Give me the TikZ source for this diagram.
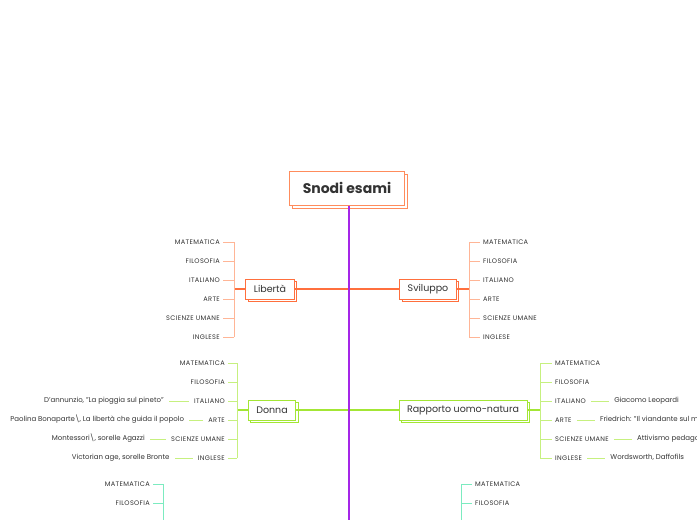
\documentclass[tikz,border=0pt]{standalone}
\usepackage{fontspec}
\setmainfont{Poppins}
\newfontfamily\capsfont[LetterSpace=5]{Poppins}
\usetikzlibrary{positioning,shadows}

\definecolor{ink}{HTML}{333333}
\definecolor{orangeline}{HTML}{FF6F3D}
\definecolor{orangebox}{HTML}{FF8C5C}
\definecolor{orangelight}{HTML}{FFB596}
\definecolor{limeline}{HTML}{A3E635}
\definecolor{limelight}{HTML}{C6F07F}
\definecolor{tealline}{HTML}{7CEBC0}
\definecolor{spine}{HTML}{A526E8}

\begin{document}
\begin{tikzpicture}[
  x=1pt, y=-1pt,
  root/.style={rectangle, draw=orangebox, line width=1pt, fill=white, minimum width=115pt, minimum height=34pt, font=\fontsize{14}{16}\selectfont\bfseries, text=ink, copy shadow={shadow xshift=3pt, shadow yshift=-3pt}},
  topic/.style={rectangle, draw, line width=0.9pt, fill=white, minimum height=20pt, inner xsep=8pt, font=\fontsize{9.5}{11}\selectfont, text=ink, copy shadow={shadow xshift=2.5pt, shadow yshift=-2.5pt}},
  subj/.style={inner sep=0pt, text height=5pt, text depth=0pt, font=\capsfont\fontsize{6.6}{8}\selectfont, text=ink},
  leaf/.style={inner sep=0pt, text height=5pt, text depth=1.6pt, font=\fontsize{7}{8}\selectfont, text=ink},
  tick/.style={line width=0.8pt},
  branch/.style={line width=1.1pt}]

\clip (0,0) rectangle (697,520);

\node[root] (root) at (347,188) {Snodi esami};

\node[topic, draw=orangeline] (liberta) at (270,289) {Libertà};
\node[topic, draw=orangeline] (sviluppo) at (428,289) {Sviluppo};
\node[topic, draw=limeline] (donna) at (272,410) {Donna};
\node[topic, draw=limeline] (rapporto) at (463,410) {Rapporto uomo-natura};
\node[topic, draw=tealline, minimum width=123pt] (basesx) at (234.5,530) {};
\node[topic, draw=tealline, minimum width=50pt] (basedx) at (423,530) {};

\coordinate (libbr) at (234,289);
\coordinate (svibr) at (469,289);
\coordinate (donbr) at (237,410);
\coordinate (rapbr) at (540,410);
\coordinate (sxbr) at (163,530);
\coordinate (dxbr) at (461,530);
\coordinate (spineend) at (349,530);

% Libertà
\node[subj, anchor=east] (lib1) at (220,242) {MATEMATICA};
\node[subj, anchor=east] (lib2) at (220,261) {FILOSOFIA};
\node[subj, anchor=east] (lib3) at (220,280) {ITALIANO};
\node[subj, anchor=east] (lib4) at (220,299) {ARTE};
\node[subj, anchor=east] (lib5) at (220,318) {SCIENZE UMANE};
\node[subj, anchor=east] (lib6) at (220,337) {INGLESE};

% Sviluppo
\node[subj, anchor=west] (svi1) at (483,242) {MATEMATICA};
\node[subj, anchor=west] (svi2) at (483,261) {FILOSOFIA};
\node[subj, anchor=west] (svi3) at (483,280) {ITALIANO};
\node[subj, anchor=west] (svi4) at (483,299) {ARTE};
\node[subj, anchor=west] (svi5) at (483,318) {SCIENZE UMANE};
\node[subj, anchor=west] (svi6) at (483,337) {INGLESE};

% Donna
\node[subj, anchor=east] (don1) at (225,363) {MATEMATICA};
\node[subj, anchor=east] (don2) at (225,382) {FILOSOFIA};
\node[subj, anchor=east] (don3) at (225,401) {ITALIANO};
\node[subj, anchor=east] (don4) at (225,420) {ARTE};
\node[subj, anchor=east] (don5) at (225,439) {SCIENZE UMANE};
\node[subj, anchor=east] (don6) at (225,458) {INGLESE};
\node[leaf, left=30pt of don3] (donlf3) {D'annunzio, "La pioggia sul pineto"};
\node[leaf, left=24pt of don4] (donlf4) {Paolina Bonaparte\textbackslash, La libertà che guida il popolo};
\node[leaf, left=26pt of don5] (donlf5) {Montessori\textbackslash, sorelle Agazzi};
\node[leaf, left=28pt of don6] (donlf6) {Victorian age, sorelle Bronte};

% Rapporto uomo-natura
\node[subj, anchor=west] (rap1) at (555,363) {MATEMATICA};
\node[subj, anchor=west] (rap2) at (555,382) {FILOSOFIA};
\node[subj, anchor=west] (rap3) at (555,401) {ITALIANO};
\node[subj, anchor=west] (rap4) at (555,420) {ARTE};
\node[subj, anchor=west] (rap5) at (555,439) {SCIENZE UMANE};
\node[subj, anchor=west] (rap6) at (555,458) {INGLESE};
\node[leaf, right=28pt of rap3] (raplf3) {Giacomo Leopardi};
\node[leaf, right=28pt of rap4] (raplf4) {Friedrich: "Il viandante sul mare di nebbia"};
\node[leaf, right=28pt of rap5] (raplf5) {Attivismo pedagogico};
\node[leaf, right=28pt of rap6] (raplf6) {Wordsworth, Daffofils};

% in fondo
\node[subj, anchor=east] (sx1) at (150,484) {MATEMATICA};
\node[subj, anchor=east] (sx2) at (150,503) {FILOSOFIA};
\node[subj, anchor=west] (dx1) at (475,484) {MATEMATICA};
\node[subj, anchor=west] (dx2) at (475,503) {FILOSOFIA};

% Lines
\draw[orangeline, branch] (liberta.east) -- (liberta -| spineend);
\draw[orangeline, branch] (sviluppo.west) -- (sviluppo -| spineend);
\draw[limeline, branch] (donna.east) -- (rapporto.west);
\draw[tealline, branch] (basesx.east) -- (basedx.west);

\draw[orangeline, branch] (liberta.west) -- (libbr);
\draw[orangeline, branch] (sviluppo.east) -- (svibr);
\draw[limeline, branch] (donna.west) -- (donbr);
\draw[limeline, branch] (rapporto.east) -- (rapbr);
\draw[tealline, branch] (basesx.west) -- (sxbr);
\draw[tealline, branch] (basedx.east) -- (dxbr);

\draw[orangelight, tick] (libbr |- lib1) -- (libbr |- lib6);
\draw[orangelight, tick] (svibr |- svi1) -- (svibr |- svi6);
\draw[limelight, tick] (donbr |- don1) -- (donbr |- don6);
\draw[limelight, tick] (rapbr |- rap1) -- (rapbr |- rap6);
\draw[tealline, tick] (sxbr |- sx1) -- (sxbr);
\draw[tealline, tick] (dxbr |- dx1) -- (dxbr);

\foreach \n in {1,...,6} {
  \draw[orangelight, tick, shorten >=3pt] (libbr |- lib\n) -- (lib\n.east);
  \draw[orangelight, tick, shorten >=3pt] (svibr |- svi\n) -- (svi\n.west);
  \draw[limelight, tick, shorten >=3pt] (donbr |- don\n) -- (don\n.east);
  \draw[limelight, tick, shorten >=3pt] (rapbr |- rap\n) -- (rap\n.west);
}
\foreach \n in {1,2} {
  \draw[tealline, tick, shorten >=3pt] (sxbr |- sx\n) -- (sx\n.east);
  \draw[tealline, tick, shorten >=3pt] (dxbr |- dx\n) -- (dx\n.west);
}
\foreach \n in {3,...,6} {
  \draw[limelight, tick, shorten >=5pt, shorten <=5pt] (don\n.west) -- (donlf\n.east);
  \draw[limelight, tick, shorten >=5pt, shorten <=5pt] (rap\n.east) -- (raplf\n.west);
}

\draw[spine, line width=1.2pt] (root.south -| spineend) -- (spineend);

\end{tikzpicture}
\end{document}
